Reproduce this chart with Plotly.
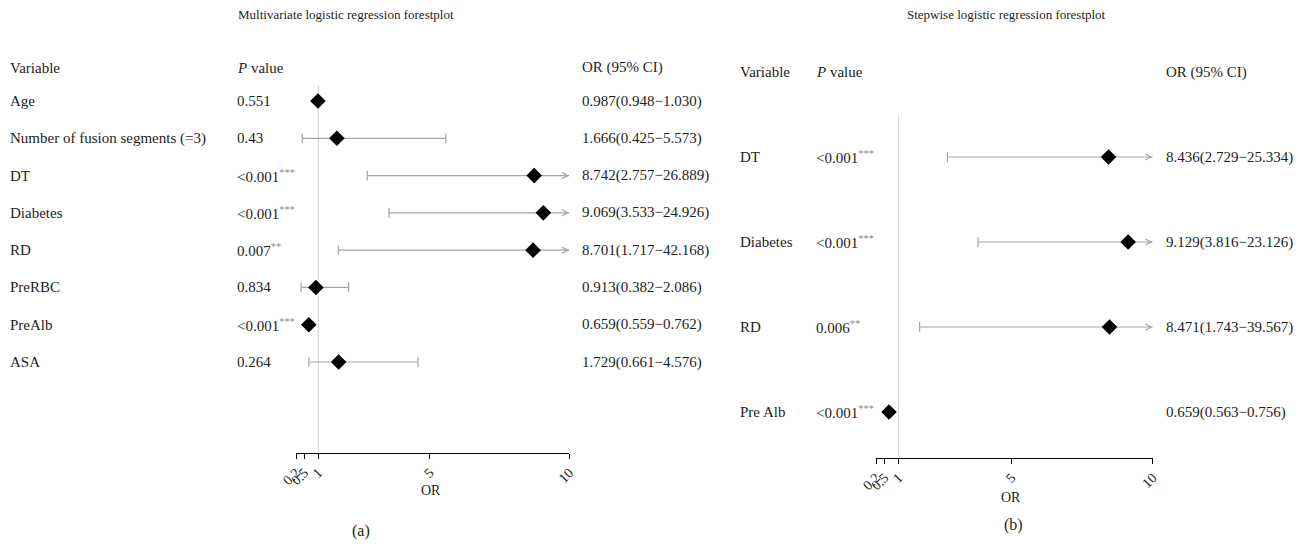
import plotly.graph_objects as go

# ---------------- data ----------------
vars_a = ["Age", "Number of fusion segments (=3)", "DT", "Diabetes", "RD", "PreRBC", "PreAlb", "ASA"]
or_a = [0.987, 1.666, 8.742, 9.069, 8.701, 0.913, 0.659, 1.729]
lo_a = [0.948, 0.425, 2.757, 3.533, 1.717, 0.382, 0.559, 0.661]
hi_a = [1.030, 5.573, 26.889, 24.926, 42.168, 2.086, 0.762, 4.576]
p_a = ["0.551", "0.43", "<0.001", "<0.001", "0.007", "0.834", "<0.001", "0.264"]
stars_a = ["", "", "***", "***", "**", "", "***", ""]

vars_b = ["DT", "Diabetes", "RD", "Pre Alb"]
or_b = [8.436, 9.129, 8.471, 0.659]
lo_b = [2.729, 3.816, 1.743, 0.563]
hi_b = [25.334, 23.126, 39.567, 0.756]
p_b = ["<0.001", "<0.001", "0.006", "<0.001"]
stars_b = ["***", "***", "**", "***"]

tick_vals = [0.2, 0.5, 1, 5, 10]
tick_text = ["0.2", "0.5", "1", "5", "10"]
x_min, x_max = 0.2, 10

title_a = "Multivariate logistic regression forestplot"
title_b = "Stepwise logistic regression forestplot"

# ---------------- style ----------------
FONT = "Liberation Serif"
TXT = "#231f20"
CI_COL = "#a6a6a6"
REF_COL = "#d4d4d4"
BODY = 15
W, H = 1308, 548

def px_x(p):
    return p / W

def px_y(p):
    return 1 - p / H

fig = go.Figure()
annotations = []
shapes = []


def add_panel(xa, ya, names, ors, los, his, ps, stars, col_var, col_p, col_or, header_y):
    xref = "x" if xa == "xaxis" else "x2"
    yref = "y" if ya == "yaxis" else "y2"
    n = len(names)
    rows = list(range(n))
    # CI lines
    lx, ly = [], []
    for i in rows:
        lx += [los[i], min(his[i], x_max), None]
        ly += [i, i, None]
    fig.add_trace(go.Scatter(x=lx, y=ly, mode="lines", xaxis=xref, yaxis=yref,
                             line=dict(color=CI_COL, width=1.2), hoverinfo="skip",
                             showlegend=False, cliponaxis=False))
    # caps
    cx = [los[i] for i in rows] + [his[i] for i in rows if his[i] <= x_max]
    cy = [i for i in rows] + [i for i in rows if his[i] <= x_max]
    fig.add_trace(go.Scatter(x=cx, y=cy, mode="markers", xaxis=xref, yaxis=yref,
                             marker=dict(symbol="line-ns", size=7,
                                         line=dict(color=CI_COL, width=1.2)),
                             hoverinfo="skip", showlegend=False, cliponaxis=False))
    # arrows for truncated CIs
    for i in rows:
        if his[i] > x_max:
            annotations.append(dict(x=x_max, y=i, xref=xref, yref=yref, ax=-6, ay=0,
                                    showarrow=True, arrowhead=5, arrowsize=1.0,
                                    arrowwidth=1.2, arrowcolor=CI_COL, text="",
                                    standoff=0))
    # point estimates
    fig.add_trace(go.Scatter(x=ors, y=rows, mode="markers", xaxis=xref, yaxis=yref,
                             marker=dict(symbol="diamond", size=12, color="black"),
                             showlegend=False, cliponaxis=False))
    # reference line at OR = 1
    shapes.append(dict(type="line", xref=xref, yref=yref + " domain", x0=1, x1=1,
                       y0=0, y1=1, line=dict(color=REF_COL, width=1), layer="below"))
    # row texts
    for i in rows:
        annotations.append(dict(x=px_x(col_var), y=i, xref="paper", yref=yref,
                                text=names[i], showarrow=False, xanchor="left",
                                yanchor="middle", font=dict(size=BODY, color=TXT, family=FONT)))
        ptxt = ps[i]
        if stars[i]:
            ptxt += "<span style='color:#8a8a8a'><sup>" + stars[i] + "</sup></span>"
        annotations.append(dict(x=px_x(col_p), y=i, xref="paper", yref=yref,
                                text=ptxt, showarrow=False, xanchor="left",
                                yanchor="middle", font=dict(size=BODY, color=TXT, family=FONT)))
        ortxt = f"{ors[i]:.3f}({los[i]:.3f}\u2212{his[i]:.3f})"
        annotations.append(dict(x=px_x(col_or), y=i, xref="paper", yref=yref,
                                text=ortxt, showarrow=False, xanchor="left",
                                yanchor="middle", font=dict(size=BODY, color=TXT, family=FONT)))
    # headers
    for txt, cx_ in [("Variable", col_var), ("<i>P</i> value", col_p), ("OR (95% CI)", col_or)]:
        annotations.append(dict(x=px_x(cx_), y=px_y(header_y), xref="paper", yref="paper",
                                text=txt, showarrow=False, xanchor="left", yanchor="middle",
                                font=dict(size=BODY, color=TXT, family=FONT)))


add_panel("xaxis", "yaxis", vars_a, or_a, lo_a, hi_a, p_a, stars_a, 8, 235, 580, 68)
add_panel("xaxis2", "yaxis2", vars_b, or_b, lo_b, hi_b, p_b, stars_b, 738, 814, 1164, 72)

# titles, axis titles, captions
for txt, x, y, size in [(title_a, 346, 14, 13), (title_b, 1006, 14, 13),
                        ("OR", 431, 490, 14), ("OR", 1011, 497, 14),
                        ("(a)", 361, 531, 16), ("(b)", 1013, 525, 16)]:
    annotations.append(dict(x=px_x(x), y=px_y(y), xref="paper", yref="paper", text=txt,
                            showarrow=False, xanchor="center", yanchor="middle",
                            font=dict(size=size, color=TXT, family=FONT)))

axis_common = dict(range=[x_min, x_max], tickmode="array", tickvals=tick_vals,
                   ticktext=tick_text, tickangle=-45, showline=True, linecolor="black",
                   linewidth=1, ticks="outside", ticklen=5, tickcolor="black",
                   showgrid=False, zeroline=False, automargin=False,
                   tickfont=dict(size=14, color=TXT, family=FONT))

na, nb = len(vars_a), len(vars_b)
fig.update_layout(
    width=W, height=H, autosize=False,
    margin=dict(l=0, r=0, t=0, b=0, pad=0, autoexpand=False),
    paper_bgcolor="white", plot_bgcolor="white",
    font=dict(family=FONT, size=BODY, color=TXT),
    xaxis=dict(domain=[px_x(296), px_x(569.3)], anchor="y", **axis_common),
    xaxis2=dict(domain=[px_x(876), px_x(1152.7)], anchor="y2", **axis_common),
    yaxis=dict(domain=[px_y(453), px_y(85)], anchor="x",
               range=[(na - 1) + (453 - 362) / 37.3, -(101 - 85) / 37.3],
               visible=False, automargin=False),
    yaxis2=dict(domain=[px_y(458), px_y(115)], anchor="x2",
                range=[(nb - 1) + (458 - 412) / 85.0, -(157 - 115) / 85.0],
                visible=False, automargin=False),
    annotations=annotations, shapes=shapes, showlegend=False,
)

fig.write_html("out.html")
